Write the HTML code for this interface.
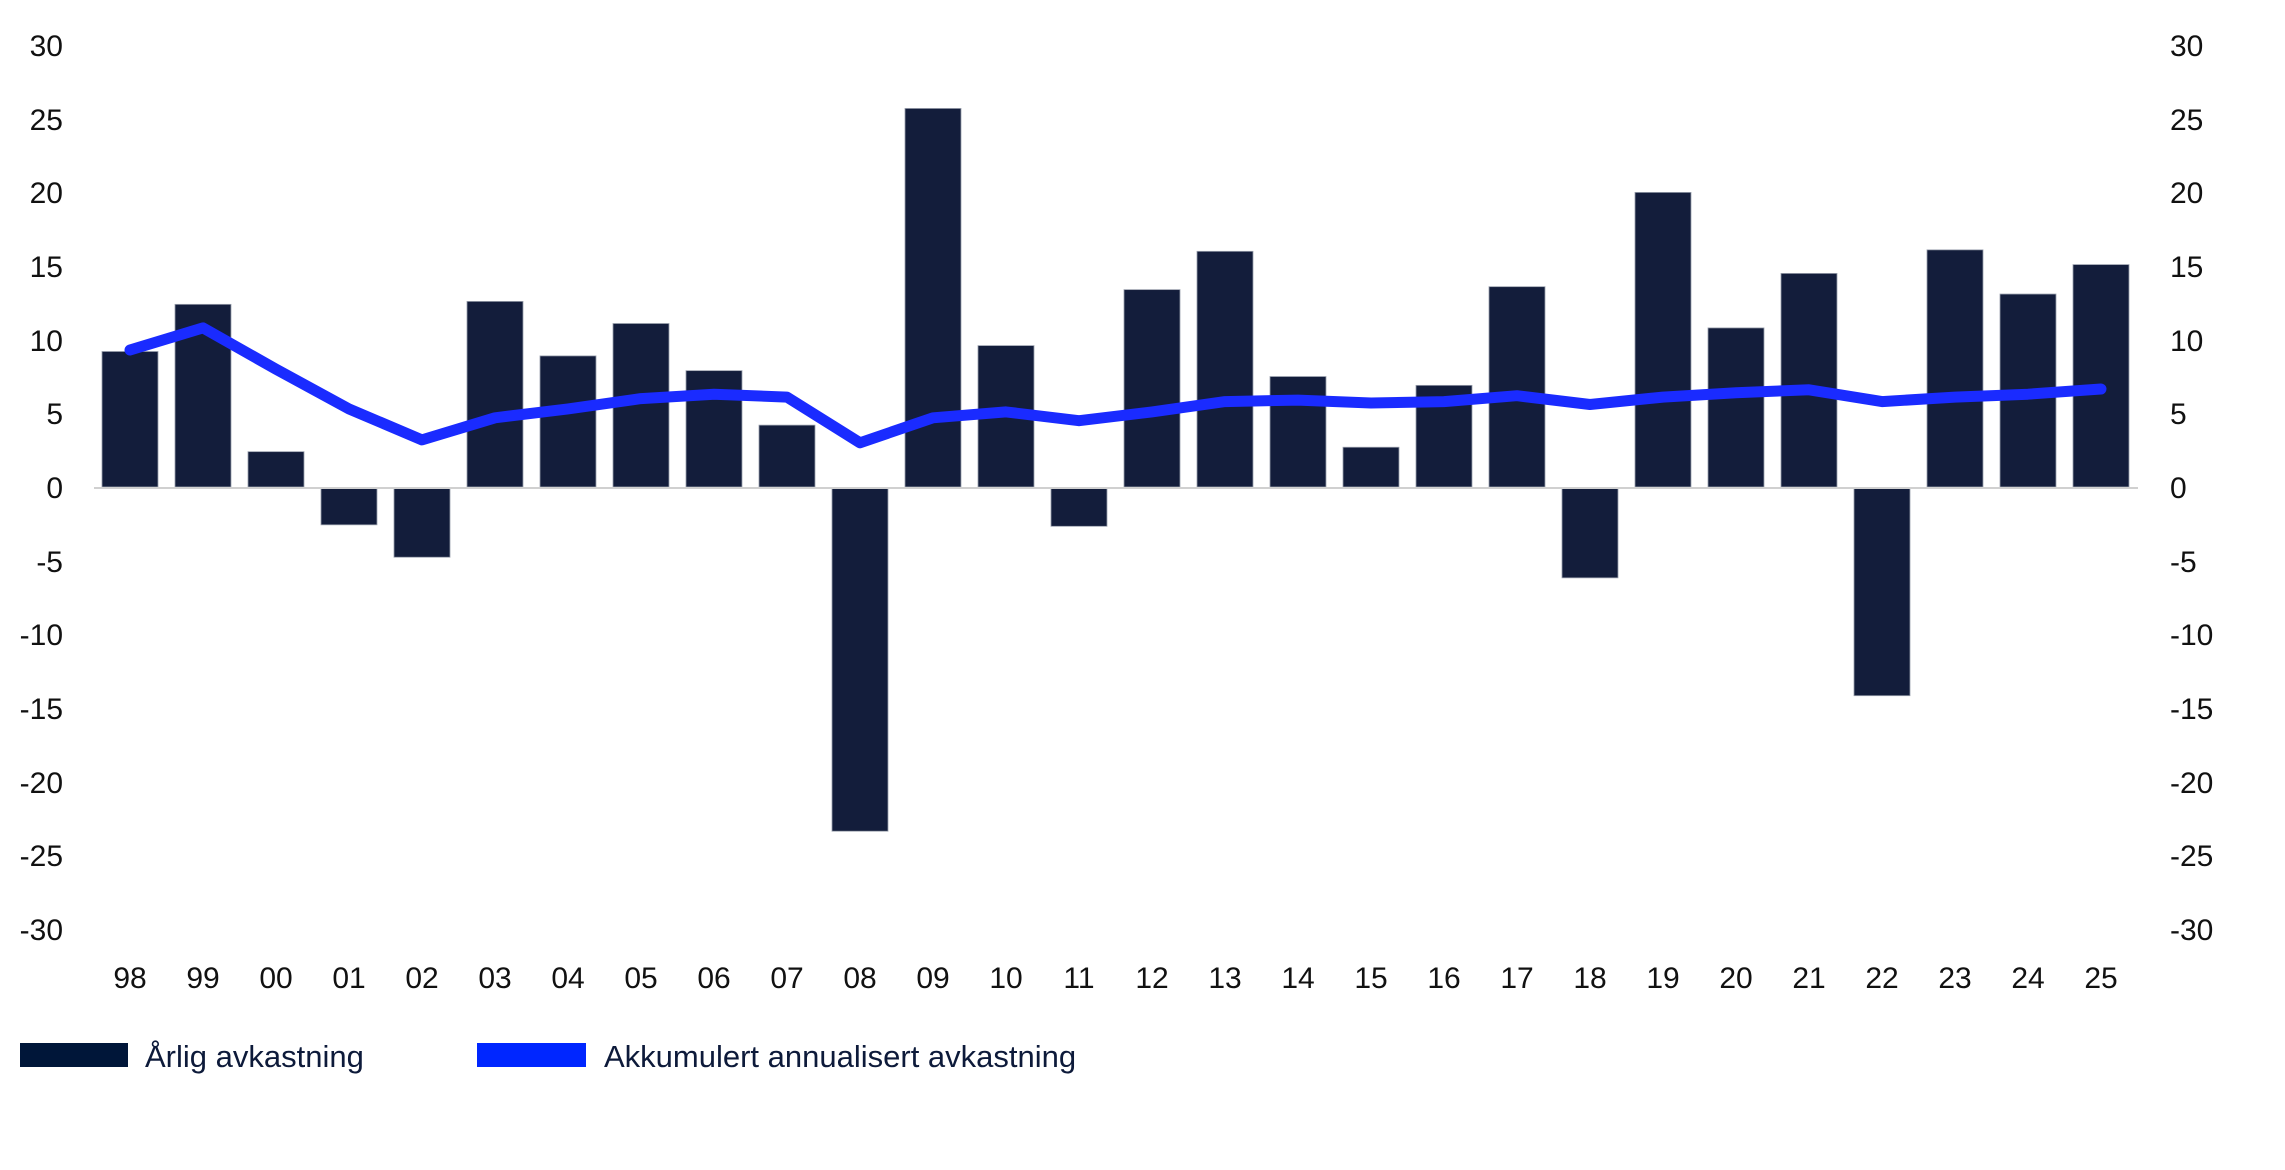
<!DOCTYPE html>
<html><head><meta charset="utf-8"><style>
html,body{margin:0;padding:0;background:#fff;}
svg{display:block;}
text{font-family:"Liberation Sans",sans-serif;font-size:30px;fill:#111;}
.lg{fill:#0d1a3a;font-size:31px;}
</style></head><body>
<svg id="c" width="2285" height="1170" viewBox="0 0 2285 1170" xmlns="http://www.w3.org/2000/svg">
<g id="bars"></g>
<line x1="94" y1="488" x2="2138" y2="488" stroke="#d0d0d0" stroke-width="2"/>
<polyline id="ln" fill="none" stroke="#1a2bff" stroke-width="11" stroke-linejoin="round" stroke-linecap="round"/>
<g text-anchor="end">
<text x="63" y="56">30</text><text x="63" y="130">25</text><text x="63" y="203">20</text><text x="63" y="277">15</text><text x="63" y="351">10</text><text x="63" y="424">5</text><text x="63" y="498">0</text><text x="63" y="572">-5</text><text x="63" y="645">-10</text><text x="63" y="719">-15</text><text x="63" y="793">-20</text><text x="63" y="866">-25</text><text x="63" y="940">-30</text>
</g>
<g text-anchor="start">
<text x="2170" y="56">30</text><text x="2170" y="130">25</text><text x="2170" y="203">20</text><text x="2170" y="277">15</text><text x="2170" y="351">10</text><text x="2170" y="424">5</text><text x="2170" y="498">0</text><text x="2170" y="572">-5</text><text x="2170" y="645">-10</text><text x="2170" y="719">-15</text><text x="2170" y="793">-20</text><text x="2170" y="866">-25</text><text x="2170" y="940">-30</text>
</g>
<g text-anchor="middle">
<text x="130" y="988">98</text><text x="203" y="988">99</text><text x="276" y="988">00</text><text x="349" y="988">01</text><text x="422" y="988">02</text><text x="495" y="988">03</text><text x="568" y="988">04</text><text x="641" y="988">05</text><text x="714" y="988">06</text><text x="787" y="988">07</text><text x="860" y="988">08</text><text x="933" y="988">09</text><text x="1006" y="988">10</text><text x="1079" y="988">11</text><text x="1152" y="988">12</text><text x="1225" y="988">13</text><text x="1298" y="988">14</text><text x="1371" y="988">15</text><text x="1444" y="988">16</text><text x="1517" y="988">17</text><text x="1590" y="988">18</text><text x="1663" y="988">19</text><text x="1736" y="988">20</text><text x="1809" y="988">21</text><text x="1882" y="988">22</text><text x="1955" y="988">23</text><text x="2028" y="988">24</text><text x="2101" y="988">25</text>
</g>
<rect x="20" y="1043" width="108" height="24" fill="#001639"/>
<text class="lg" x="145" y="1067">Årlig avkastning</text>
<rect x="477" y="1043" width="109" height="24" fill="#0026ff"/>
<text class="lg" x="604" y="1067">Akkumulert annualisert avkastning</text>
</svg>
<script>
var b=[9.2,12.4,2.4,-2.5,-4.7,12.6,8.9,11.1,7.9,4.2,-23.3,25.7,9.6,-2.6,13.4,16.0,7.5,2.7,6.9,13.6,-6.1,20.0,10.8,14.5,-14.1,16.1,13.1,15.1];
var l=[9.3,10.8,8.0,5.3,3.2,4.7,5.3,6.0,6.3,6.1,3.0,4.7,5.1,4.5,5.1,5.8,5.9,5.7,5.8,6.2,5.6,6.1,6.4,6.6,5.8,6.1,6.3,6.65];
var z=487,u=14.73,g=document.getElementById('bars'),ns='http://www.w3.org/2000/svg',pts=[];
for(var i=0;i<28;i++){var cx=130+73*i,r=document.createElementNS(ns,'rect');
var y=b[i]>=0?z-b[i]*u:z+1,h=Math.abs(b[i])*u;
r.setAttribute('x',cx-28);r.setAttribute('y',y);r.setAttribute('width',56);r.setAttribute('height',h);
r.setAttribute('fill','#131d3b');r.setAttribute('stroke','#9aa0ad');r.setAttribute('stroke-width','0.8');g.appendChild(r);
pts.push(cx+','+(z-l[i]*u).toFixed(1));}
document.getElementById('ln').setAttribute('points',pts.join(' '));
</script>
</body></html>
